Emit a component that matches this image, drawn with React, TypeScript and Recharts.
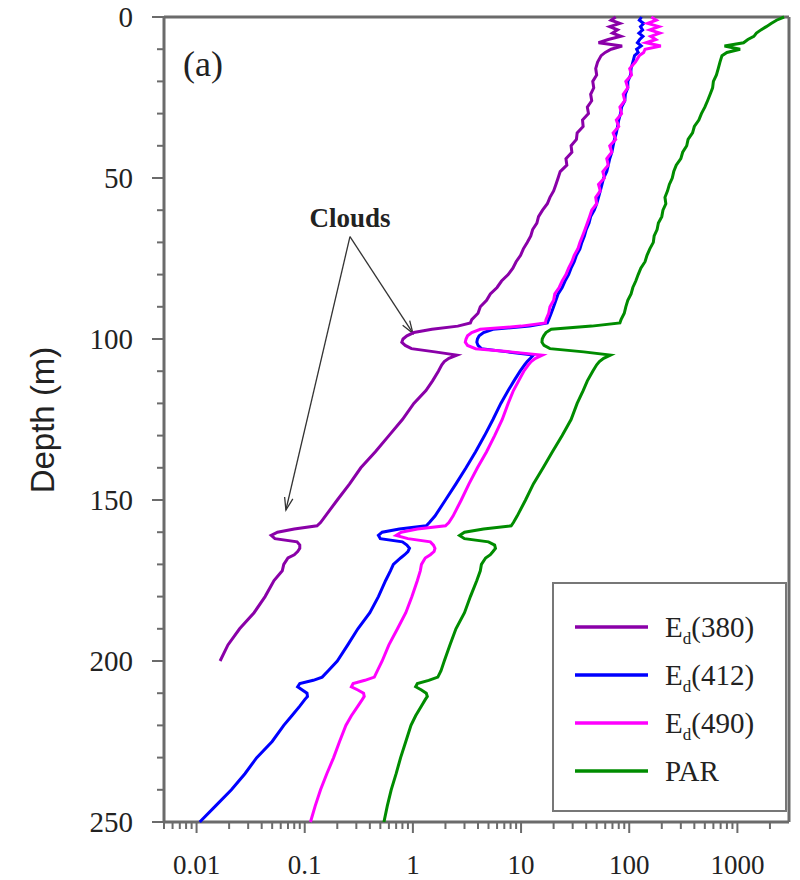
import { ScatterChart, Scatter, XAxis, YAxis, ReferenceLine } from 'recharts';

// depth grid (m) shared by every profile
const DEPTHS = [
  0, 1, 2, 3, 4, 5, 6, 7, 8, 9, 10, 11, 12,
  14, 16, 18, 20, 22, 24, 26, 28, 30, 32, 34, 36, 38, 40, 42, 44, 46, 48, 50, 52, 54, 56, 58, 60,
  62, 64, 66, 68, 70, 72, 74, 76, 78, 80, 82, 84, 86, 88, 90, 92, 94,
  95, 96, 97, 98, 99, 100, 101, 102, 103, 104, 105, 106, 107, 108,
  110, 113, 116, 120, 125, 130, 135, 140, 145, 150, 155,
  157, 158, 159, 160, 161, 162, 163, 164, 165, 166, 167, 168,
  170, 172, 175, 180, 185, 190, 195, 200,
  203, 205, 206, 207, 208, 209, 210, 211, 212,
  214, 217, 220, 225, 230, 235, 240, 245, 250,
];

const ED380 = [
  75, 68, 82, 66, 78, 70, 84, 64, 52, 86, 68, 60, 55,
  51, 49, 50, 46, 47, 44, 45, 41, 42, 37, 37.5, 33, 32.5, 29, 29.5, 26, 26.5, 23, 22, 21, 20, 18.5, 17.5, 15.8,
  14.5, 14, 12.8, 12.3, 11.4, 10.5, 9.9, 9.0, 8.4, 7.6, 6.6, 6.0, 5.2, 4.8, 4.2, 4.0, 3.5,
  3.4, 2.6, 1.5, 1.02, 0.88, 0.81, 0.79, 0.85, 0.97, 1.6, 2.55, 2.15, 1.95, 1.85,
  1.72, 1.52, 1.32, 1.02, 0.8, 0.6, 0.45, 0.33, 0.26, 0.2, 0.155,
  0.14, 0.13, 0.08, 0.056, 0.049, 0.053, 0.085, 0.09, 0.09, 0.086, 0.08, 0.07,
  0.064, 0.062, 0.052, 0.043, 0.034, 0.025, 0.0195, 0.0165,
  null, null, null, null, null, null, null, null, null,
  null, null, null, null, null, null, null, null, null,
];

const ED412 = [
  130, 124, 136, 127, 133, 123, 134, 125, 119, 129, 117, 121, 112,
  108, 104, 103, 97, 97, 92, 91, 85, 83, 80, 78, 76, 73, 71, 69, 66, 64, 62, 58, 56, 54, 52, 50, 47.5,
  44, 42.5, 40, 38.5, 36.5, 35, 32.5, 31, 29, 27.5, 25.5, 24, 22, 21, 20, 19, 18,
  17.5, 12, 5.5, 4.5, 4.1, 3.95, 3.9, 4.0, 4.3, 7.5, 13, 12.2, 11.4, 10.8,
  9.8, 8.6, 7.6, 6.5, 5.5, 4.6, 3.8, 3.1, 2.5, 2.0, 1.6,
  1.42, 1.33, 0.75, 0.52, 0.48, 0.5, 0.8, 0.88, 0.93, 0.9, 0.84, 0.77,
  0.66, 0.62, 0.56, 0.48, 0.4, 0.31, 0.25, 0.2,
  0.165, 0.145, 0.12, 0.09, 0.086, 0.095, 0.105, 0.106, 0.1,
  0.09, 0.076, 0.064, 0.05, 0.036, 0.028, 0.021, 0.015, 0.0107,
];

const ED490 = [
  160, 178, 148, 188, 155, 192, 158, 176, 143, 196, 140, 136, 124,
  114, 101, 105, 93, 97, 88, 91, 82, 85, 76, 80, 71, 75, 66, 69, 62, 64, 57, 59, 52, 54, 49, 50, 45,
  43, 41, 39, 37, 35, 33.5, 31, 29.5, 27.5, 26, 24, 22.5, 20.5, 20, 18.5, 18, 17,
  16.8, 10, 4.2, 3.5, 3.2, 3.1, 3.05, 3.2, 3.8, 8, 15.7, 13.6, 12.4, 11.7,
  10.6, 9.5, 8.5, 7.6, 6.7, 5.7, 4.8, 3.95, 3.3, 2.8, 2.35,
  2.15, 2.0, 1.1, 0.78, 0.7, 0.9, 1.45, 1.55, 1.6, 1.57, 1.45, 1.3,
  1.2, 1.17, 1.1, 0.98, 0.86, 0.72, 0.6, 0.52,
  0.47, 0.44, 0.36, 0.28, 0.27, 0.31, 0.35, 0.355, 0.34,
  0.31, 0.27, 0.24, 0.21, 0.185, 0.16, 0.14, 0.125, 0.113,
];

const PAR = [
  2700, 2300, 2050, 1850, 1650, 1500, 1420, 1250, 1140, 760, 1060, 800, 720,
  690, 665, 640, 600, 590, 560, 530, 500, 465, 440, 400, 385, 350, 340, 312, 300, 272, 258, 250, 235, 226, 214, 218, 205,
  200, 186, 181, 170, 167, 155, 146, 140, 128, 121, 115, 108, 104, 97, 93, 90, 84,
  82, 45, 19, 17, 16.2, 15.7, 15.6, 16.3, 18.5, 38, 67, 58, 53, 50,
  46, 41, 37.5, 33, 29, 24, 19.5, 16, 13, 11, 9.2,
  8.5, 8.1, 4.5, 3.0, 2.7, 3.0, 5.0, 5.7, 5.8, 5.5, 5.2, 4.7,
  4.3, 4.2, 3.9, 3.4, 3.0, 2.5, 2.2, 1.95,
  1.82, 1.7, 1.4, 1.1, 1.06, 1.2, 1.33, 1.36, 1.3,
  1.2, 1.06, 0.96, 0.86, 0.77, 0.7, 0.63, 0.58, 0.54,
];

const SERIES = [
  { name: '(380)', sub: true, color: '#8a00a8', values: ED380 },
  { name: '(412)', sub: true, color: '#0000ff', values: ED412 },
  { name: '(490)', sub: true, color: '#ff00ff', values: ED490 },
  { name: 'PAR', sub: false, color: '#008c00', values: PAR },
];

const X_DECADES = [0.001, 0.01, 0.1, 1, 10, 100, 1000];
const X_LABELS = ['0.001', '0.01', '0.1', '1', '10', '100', '1000'];
const X_MIN = 0.005;
const X_MAX = 3000;
const Y_TICKS = [0, 10, 20, 30, 40, 50, 60, 70, 80, 90, 100, 110, 120, 130, 140, 150, 160, 170, 180, 190, 200, 210, 220, 230, 240, 250];

// cloud arrows: [apex, tip] in (irradiance, depth)
const ARROWS = [
  [{ x: 0.262, y: 68.2 }, { x: 1.0, y: 98.2 }],
  [{ x: 0.262, y: 68.2 }, { x: 0.067, y: 153.1 }],
];

const AXIS = '#6b6b6b';
const SERIF = '"Liberation Serif", "Times New Roman", serif';
const SANS = '"Liberation Sans", Arial, sans-serif';

const xTicks = X_DECADES.flatMap((d) => [1, 2, 3, 4, 5, 6, 7, 8, 9].map((k) => +(d * k).toPrecision(3)))
  .filter((v) => v >= X_MIN && v < X_MAX);

const XTick = ({ x, y, payload }: any) => {
  const idx = X_DECADES.findIndex((d) => Math.abs(d - payload.value) < d * 1e-6);
  const major = idx >= 0;
  return (
    <g>
      <line x1={x} x2={x} y1={y} y2={y + (major ? 11 : 7)} stroke={AXIS} strokeWidth={2} />
      {major && (
        <text x={x} y={y + 52} textAnchor="middle" fontFamily={SERIF} fontSize={27} fill="#222">
          {X_LABELS[idx]}
        </text>
      )}
    </g>
  );
};

const YTick = ({ x, y, payload }: any) => {
  const major = payload.value % 50 === 0;
  return (
    <g>
      <line x1={x - (major ? 12 : 7)} x2={x} y1={y} y2={y} stroke={AXIS} strokeWidth={2} />
      {major && (
        <text x={x - 31} y={y + 10} textAnchor="end" fontFamily={SERIF} fontSize={29} fill="#222">
          {payload.value}
        </text>
      )}
    </g>
  );
};

const Arrow = ({ x1, y1, x2, y2 }: any) => {
  const a = Math.atan2(y2 - y1, x2 - x1);
  const len = 13;
  const spread = 0.33;
  const h1 = [x2 - len * Math.cos(a - spread), y2 - len * Math.sin(a - spread)];
  const h2 = [x2 - len * Math.cos(a + spread), y2 - len * Math.sin(a + spread)];
  return (
    <g stroke="#333" strokeWidth={1.3} fill="none">
      <line x1={x1} y1={y1} x2={x2} y2={y2} />
      <polyline points={`${h1[0]},${h1[1]} ${x2},${y2} ${h2[0]},${h2[1]}`} />
    </g>
  );
};

export default function App() {
  return (
    <div style={{ position: 'absolute', left: 0, top: 0, width: 800, height: 880, background: '#fff' }}>
      <ScatterChart width={800} height={880} margin={{ top: 17, right: 11, bottom: 0, left: 0 }}>
        <XAxis
          type="number"
          dataKey="x"
          scale="log"
          domain={[X_MIN, X_MAX]}
          allowDataOverflow
          ticks={xTicks}
          interval={0}
          tickSize={0}
          tickMargin={0}
          tickLine={false}
          tick={<XTick />}
          axisLine={{ stroke: AXIS, strokeWidth: 3 }}
          height={58}
        />
        <YAxis
          type="number"
          dataKey="y"
          domain={[0, 250]}
          reversed
          ticks={Y_TICKS}
          interval={0}
          tickSize={0}
          tickMargin={0}
          tickLine={false}
          tick={<YTick />}
          axisLine={{ stroke: AXIS, strokeWidth: 3 }}
          width={164}
        />
        <ReferenceLine y={0} stroke={AXIS} strokeWidth={3} />
        <ReferenceLine x={X_MAX} stroke={AXIS} strokeWidth={3} />
        {SERIES.map((s) => (
          <Scatter
            key={s.name}
            name={s.name}
            data={DEPTHS.map((d, i) => ({ x: s.values[i], y: d })).filter((p) => p.x != null)}
            fill={s.color}
            line={{ stroke: s.color, strokeWidth: 3 }}
            lineJointType="linear"
            shape={() => <g />}
            isAnimationActive={false}
          />
        ))}
        {ARROWS.map((seg, i) => (
          <ReferenceLine key={i} segment={seg} shape={<Arrow />} ifOverflow="visible" />
        ))}
      </ScatterChart>
      <svg width={800} height={880} style={{ position: 'absolute', left: 0, top: 0, pointerEvents: 'none' }}>
        <text
          x={42}
          y={420}
          transform="rotate(-90 42 420)"
          textAnchor="middle"
          dominantBaseline="central"
          fontFamily={SANS}
          fontSize={33}
          fill="#222"
        >
          Depth (m)
        </text>
        <text x={183} y={76} fontFamily={SERIF} fontSize={36} fill="#222">
          (a)
        </text>
        <text x={350} y={227} textAnchor="middle" fontFamily={SERIF} fontWeight="bold" fontSize={27} fill="#222">
          Clouds
        </text>
        <rect x={553} y={583} width={233} height={228} fill="#fff" stroke="#777" strokeWidth={2} />
        {SERIES.map((s, i) => {
          const ly = 627 + i * 48;
          return (
            <g key={s.name}>
              <line x1={575} x2={648} y1={ly} y2={ly} stroke={s.color} strokeWidth={3.5} />
              <text x={665} y={ly + 10} fontFamily={SERIF} fontSize={29} fill="#222">
                {s.sub ? (
                  <>
                    E
                    <tspan dy={7} fontSize={17}>d</tspan>
                    <tspan dy={-7}>{s.name}</tspan>
                  </>
                ) : (
                  s.name
                )}
              </text>
            </g>
          );
        })}
      </svg>
    </div>
  );
}
